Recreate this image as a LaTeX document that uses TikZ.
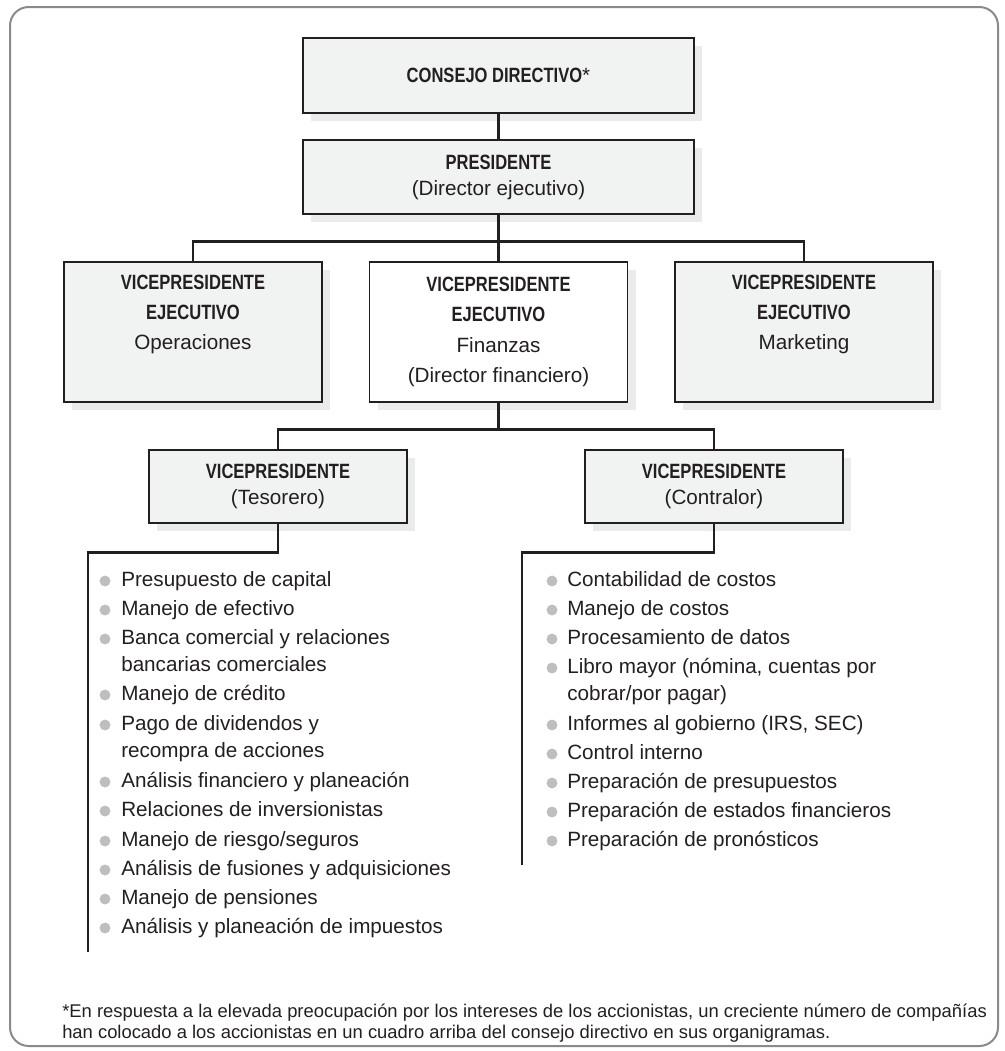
\documentclass[tikz,border=0pt]{standalone}
\usepackage{fontspec}
\setmainfont{Liberation Sans}
\newfontfamily\negrita[FakeStretch=0.8]{Liberation Sans}
\usetikzlibrary{shadows}

\definecolor{tinta}{HTML}{231F20}
\definecolor{relleno}{HTML}{F1F2F2}
\definecolor{sombra}{HTML}{EAEBEB}
\definecolor{marco}{HTML}{8A8A8A}
\definecolor{punto}{HTML}{BCBEC0}

\tikzset{
  caja/.style={draw=tinta, line width=1.3pt, fill=relleno, text=tinta, align=center,
    inner sep=0pt, minimum width=193.5pt, minimum height=54.75pt,
    font=\fontsize{15.5}{19.5}\selectfont,
    drop shadow={shadow xshift=6pt, shadow yshift=-6pt, fill=sombra, opacity=1}},
  cajaalta/.style={caja, minimum height=105pt, font=\fontsize{15.5}{22.7}\selectfont},
  cajaancha/.style={caja, minimum width=293.25pt, minimum height=56pt},
  linea/.style={draw=tinta, line width=2.1pt},
  item/.style={anchor=base west, inner sep=0pt, text=tinta, font=\fontsize{15.5}{18}\selectfont},
  nota/.style={anchor=base west, inner sep=0pt, text=tinta, font=\fontsize{13.8}{16}\selectfont}
}
\newcommand{\cargo}[1]{{\negrita\bfseries #1}}

\begin{document}
\begin{tikzpicture}[x=0.75pt, y=-0.75pt]
    \useasboundingbox (0,0) rectangle (1005,1051);

    % Marco
    \draw[marco, line width=1.5pt, rounded corners=14pt] (10,7) rectangle (998,1046);

    % Consejo y presidente
    \node[cajaancha] (consejo) at (498.5,75.5) {\cargo{CONSEJO DIRECTIVO}*};
    \node[cajaancha] (pres) at (498.5,177) {\cargo{PRESIDENTE}\\(Director ejecutivo)};

    % Vicepresidentes ejecutivos
    \node[cajaalta] (vpop) at (193,332) {\cargo{VICEPRESIDENTE}\\\cargo{EJECUTIVO}\\Operaciones\\\strut};
    \node[cajaalta, fill=white] (vpfin) at (498.5,332) {\cargo{VICEPRESIDENTE}\\\cargo{EJECUTIVO}\\Finanzas\\(Director financiero)};
    \node[cajaalta] (vpmk) at (804,332) {\cargo{VICEPRESIDENTE}\\\cargo{EJECUTIVO}\\Marketing\\\strut};

    % Vicepresidentes de finanzas
    \node[caja] (tes) at (278,486.5) {\cargo{VICEPRESIDENTE}\\(Tesorero)};
    \node[caja] (con) at (714,486.5) {\cargo{VICEPRESIDENTE}\\(Contralor)};

    % Conexiones
    \draw[linea] (consejo.south) -- (pres.north);
    \draw[linea] (pres.south) -- (vpfin.north);
    \draw[linea] (vpop.north) -- ++(0,-20) -| (vpmk.north);
    \draw[linea] (vpfin.south) -- ++(0,28);
    \draw[linea] (tes.north) -- ++(0,-20) -| (con.north);

    \coordinate (finT) at (88,952);
    \coordinate (finC) at (522,865);
    \draw[linea] (tes.south) -- ++(0,29) -| (finT);
    \draw[linea] (con.south) -- ++(0,29) -| (finC);

    % Funciones del tesorero
    \foreach \yb/\texto [count=\i] in {586/{Presupuesto de capital}, 615/{Manejo de efectivo},
        644/{Banca comercial y relaciones}, 700/{Manejo de crédito}, 730/{Pago de dividendos y},
        787/{Análisis financiero y planeación}, 816/{Relaciones de inversionistas},
        846/{Manejo de riesgo/seguros}, 875/{Análisis de fusiones y adquisiciones},
        904/{Manejo de pensiones}, 933/{Análisis y planeación de impuestos}}{
      \fill[punto] (105,\yb-5) circle (4.1pt);
      \node[item] (t\i) at (121,\yb) {\texto};
    }
    \node[item] (t3b) at (121,671) {bancarias comerciales};
    \node[item] (t5b) at (121,757) {recompra de acciones};

    % Funciones del contralor
    \foreach \yb/\texto [count=\i] in {586/{Contabilidad de costos}, 615/{Manejo de costos},
        644/{Procesamiento de datos}, 673/{Libro mayor (nómina, cuentas por},
        730/{Informes al gobierno (IRS, SEC)}, 759/{Control interno},
        788/{Preparación de presupuestos}, 817/{Preparación de estados financieros},
        846/{Preparación de pronósticos}}{
      \fill[punto] (552,\yb-5) circle (4.1pt);
      \node[item] (c\i) at (567,\yb) {\texto};
    }
    \node[item] (c4b) at (567,700) {cobrar/por pagar)};

    % Nota al pie
    \node[nota] (nota1) at (62,1017) {*En respuesta a la elevada preocupación por los intereses de los accionistas, un creciente número de compañías};
    \node[nota] (nota2) at (62,1038) {han colocado a los accionistas en un cuadro arriba del consejo directivo en sus organigramas.};

\end{tikzpicture}
\end{document}
